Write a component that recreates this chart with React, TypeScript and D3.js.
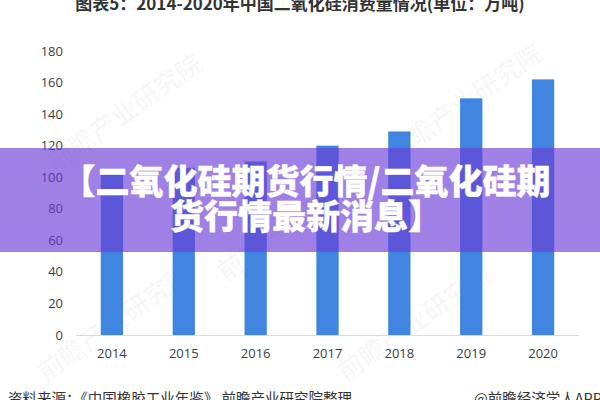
import React from "react";
import * as d3 from "d3";

const years = ["2014", "2015", "2016", "2017", "2018", "2019", "2020"];
const consumption = [102, 106, 110, 120, 129, 150, 162];
const yTicks = [0, 20, 40, 60, 80, 100, 120, 140, 160, 180];
const titleText = "图表5：2014-2020年中国二氧化硅消费量情况(单位：万吨)";
const bannerLines = ["【二氧化硅期货行情/二氧化硅期", "货行情最新消息】"];
const sourceText = "资料来源：《中国橡胶工业年鉴》 前瞻产业研究院整理";
const creditText = "@前瞻经济学人APP";
const watermarks = [
  { x: 130, y: 120 }, { x: 470, y: 110 }, { x: 120, y: 330 }, { x: 420, y: 330 }, { x: 300, y: 230 },
];

const W = 600;
const H = 400;
const CJK = "'Noto Sans CJK SC', 'Noto Sans', sans-serif";
const NUM = "'Open Sans', 'Noto Sans', 'DejaVu Sans', sans-serif";

export default function App() {
  const x = d3.scaleBand<string>().domain(years).range([76, 579]).paddingInner(0.69).paddingOuter(0.345);
  const y = d3.scaleLinear().domain([0, 180]).range([335, 51]);

  return (
    <svg width={W} height={H} style={{ position: "absolute", left: 0, top: 0, background: "#fff" }}>
      <rect x={0} y={0} width={W} height={H} fill="#ffffff" />
      {watermarks.map((w, i) => (
        <text key={i} x={w.x} y={w.y} transform={`rotate(-35 ${w.x} ${w.y})`} textAnchor="middle"
          fontFamily={CJK} fontWeight={700} fontSize={26} fill="#000" fillOpacity={0.03}>前瞻产业研究院</text>
      ))}
      <text x={300} y={10} textAnchor="middle" fontFamily={CJK} fontWeight={700} fontSize={17} fill="#333">{titleText}</text>
      {yTicks.map((t) => (
        <text key={t} x={63} y={y(t)} dy="0.35em" textAnchor="end" fontFamily={NUM} fontSize={13} fill="#404040">{t}</text>
      ))}
      <line x1={76} x2={579} y1={y(0) + 0.5} y2={y(0) + 0.5} stroke="#d9d9d9" strokeWidth={1} />
      {years.map((yr, i) => (
        <rect key={yr} x={x(yr)} y={y(consumption[i])} width={x.bandwidth()} height={y(0) - y(consumption[i])} fill="#4086E0" />
      ))}
      {years.map((yr) => (
        <text key={yr} x={(x(yr) as number) + x.bandwidth() / 2} y={353} dy="0.35em" textAnchor="middle" fontFamily={NUM} fontSize={13} fill="#404040">{yr}</text>
      ))}
      <rect x={0} y={148} width={W} height={104} fill="rgb(108,60,214)" fillOpacity={0.65} />
      {bannerLines.map((l, i) => (
        <text key={i} x={306} y={194 + i * 35} textAnchor="middle" fontFamily={CJK} fontWeight={900} fontSize={34}
          fill="#fff" stroke="#fff" strokeWidth={0.35} strokeLinejoin="round">{l}</text>
      ))}
      <text x={8} y={404} fontFamily={CJK} fontSize={14.5} fill="#333">{sourceText}</text>
      <text x={474} y={404} fontFamily={CJK} fontSize={14.5} fill="#333">{creditText}</text>
    </svg>
  );
}
